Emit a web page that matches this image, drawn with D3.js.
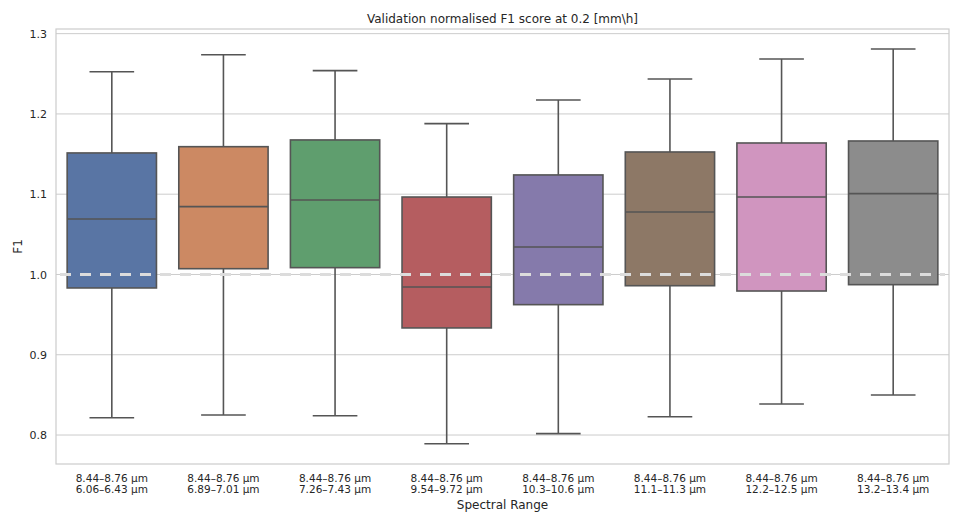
<!DOCTYPE html>
<html>
<head>
<meta charset="utf-8">
<script src="https://cdn.jsdelivr.net/npm/d3@7"></script>
<style>
  body { margin: 0; background: #fff; }
  text { font-family: "DejaVu Sans", sans-serif; fill: #262626; }
</style>
</head>
<body>
<svg id="chart" width="964" height="526"></svg>
<script>
// box statistics (per spectral range pair)
var bandTop = ["8.44–8.76 µm", "8.44–8.76 µm", "8.44–8.76 µm", "8.44–8.76 µm",
               "8.44–8.76 µm", "8.44–8.76 µm", "8.44–8.76 µm", "8.44–8.76 µm"];
var bandBottom = ["6.06–6.43 µm", "6.89–7.01 µm", "7.26–7.43 µm", "9.54–9.72 µm",
                  "10.3–10.6 µm", "11.1–11.3 µm", "12.2–12.5 µm", "13.2–13.4 µm"];
var whiskerLow = [0.8216, 0.8250, 0.8241, 0.7892, 0.8017, 0.8228, 0.8387, 0.8499];
var q1 =         [0.9832, 1.0072, 1.0085, 0.9334, 0.9624, 0.9860, 0.9794, 0.9873];
var median =     [1.0691, 1.0845, 1.0928, 0.9844, 1.0343, 1.0779, 1.0965, 1.1007];
var q3 =         [1.1514, 1.1592, 1.1676, 1.0965, 1.1240, 1.1526, 1.1638, 1.1663];
var whiskerHigh =[1.2526, 1.2738, 1.2539, 1.1879, 1.2174, 1.2436, 1.2685, 1.2809];
var yTicks = [0.8, 0.9, 1.0, 1.1, 1.2, 1.3];
var refLine = 1.0;

// seaborn "deep" desaturated
var colors = ["#5975a4", "#cc8963", "#5f9e6e", "#b55d60", "#857aab", "#8d7866", "#d095bf", "#8c8c8c"];

var margin = {top: 29, right: 15, bottom: 62, left: 56};
var width = 964 - margin.left - margin.right;
var height = 526 - margin.top - margin.bottom;

var svg = d3.select("#chart");
var g = svg.append("g").attr("transform", "translate(" + margin.left + "," + margin.top + ")");

var idx = d3.range(bandTop.length);
var x = d3.scaleBand().domain(idx).range([0, width]).padding(0);
var y = d3.scaleLinear().domain([0.7639, 1.3058]).range([height, 0]);

// grid
g.append("g")
  .selectAll("line")
  .data(yTicks)
  .join("line")
  .attr("x1", 0).attr("x2", width)
  .attr("y1", d => y(d)).attr("y2", d => y(d))
  .attr("stroke", "#cccccc").attr("stroke-width", 1);

// y axis labels
var yAxis = g.append("g").call(d3.axisLeft(y).tickValues(yTicks).tickFormat(d3.format(".1f")).tickSize(0).tickPadding(9));
yAxis.select(".domain").remove();
yAxis.selectAll("text").style("font-size", "11px").style("font-family", "DejaVu Sans").attr("fill", "#262626");

// x axis labels (two lines)
var xAxis = g.append("g").attr("transform", "translate(0," + height + ")")
  .call(d3.axisBottom(x).tickSize(0).tickFormat(""));
xAxis.select(".domain").remove();
xAxis.selectAll(".tick").each(function(d) {
  var tk = d3.select(this);
  tk.append("text").attr("text-anchor", "middle").attr("x", 0).attr("y", 17.5)
    .style("font-size", "10.5px").text(bandTop[d]);
  tk.append("text").attr("text-anchor", "middle").attr("x", 0).attr("y", 29)
    .style("font-size", "10.5px").text(bandBottom[d]);
});

var lineColor = "#555555";
var boxW = x.bandwidth() * 0.8;
var capW = x.bandwidth() * 0.4;

var boxes = g.append("g").selectAll("g").data(idx).join("g")
  .attr("transform", d => "translate(" + (x(d) + x.bandwidth() / 2) + ",0)");

// whiskers
boxes.append("line")
  .attr("x1", 0).attr("x2", 0)
  .attr("y1", d => y(q3[d])).attr("y2", d => y(whiskerHigh[d]))
  .attr("stroke", lineColor).attr("stroke-width", 1.6);
boxes.append("line")
  .attr("x1", 0).attr("x2", 0)
  .attr("y1", d => y(q1[d])).attr("y2", d => y(whiskerLow[d]))
  .attr("stroke", lineColor).attr("stroke-width", 1.6);
boxes.append("line")
  .attr("x1", -capW / 2).attr("x2", capW / 2)
  .attr("y1", d => y(whiskerHigh[d])).attr("y2", d => y(whiskerHigh[d]))
  .attr("stroke", lineColor).attr("stroke-width", 1.6);
boxes.append("line")
  .attr("x1", -capW / 2).attr("x2", capW / 2)
  .attr("y1", d => y(whiskerLow[d])).attr("y2", d => y(whiskerLow[d]))
  .attr("stroke", lineColor).attr("stroke-width", 1.6);

// boxes
boxes.append("rect")
  .attr("x", -boxW / 2).attr("width", boxW)
  .attr("y", d => y(q3[d]))
  .attr("height", d => y(q1[d]) - y(q3[d]))
  .attr("fill", d => colors[d])
  .attr("stroke", lineColor).attr("stroke-width", 1.6);

// medians
boxes.append("line")
  .attr("x1", -boxW / 2).attr("x2", boxW / 2)
  .attr("y1", d => y(median[d])).attr("y2", d => y(median[d]))
  .attr("stroke", lineColor).attr("stroke-width", 1.6);

// reference line at 1.0
g.append("line")
  .attr("x1", 4).attr("x2", width - 4)
  .attr("y1", y(refLine)).attr("y2", y(refLine))
  .attr("stroke", "#dcdcdc").attr("stroke-width", 3)
  .attr("stroke-dasharray", "11,9");

// frame
g.append("rect")
  .attr("x", 0).attr("y", 0).attr("width", width).attr("height", height)
  .attr("fill", "none").attr("stroke", "#cccccc").attr("stroke-width", 1.2);

// title and labels
svg.append("text")
  .attr("x", margin.left + width / 2).attr("y", 23)
  .attr("text-anchor", "middle").style("font-size", "12px")
  .text("Validation normalised F1 score at 0.2 [mm\\h]");

svg.append("text")
  .attr("x", margin.left + width / 2).attr("y", 509)
  .attr("text-anchor", "middle").style("font-size", "12px")
  .text("Spectral Range");

svg.append("text")
  .attr("transform", "translate(22," + (margin.top + height / 2) + ") rotate(-90)")
  .attr("text-anchor", "middle").style("font-size", "12px")
  .text("F1");
</script>
</body>
</html>
